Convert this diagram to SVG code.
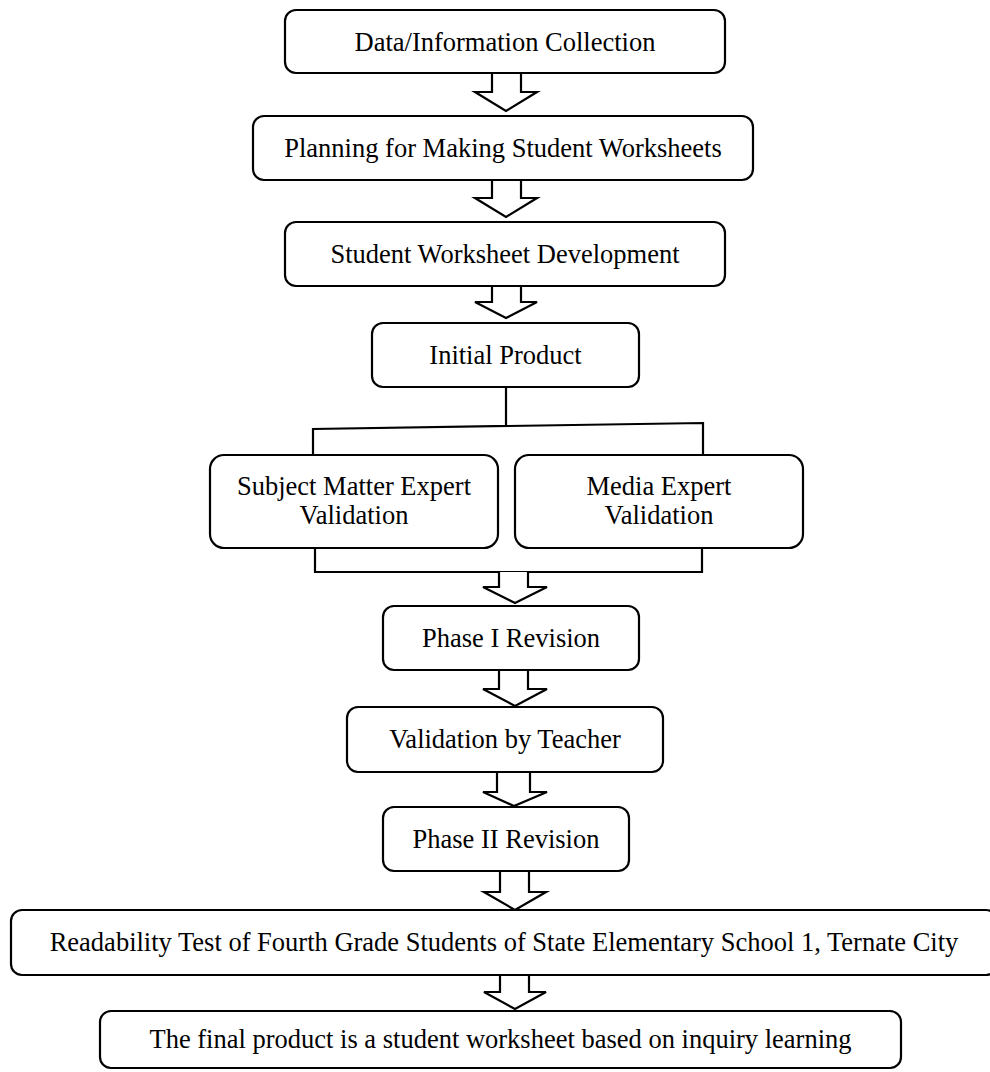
<svg xmlns="http://www.w3.org/2000/svg" width="990" height="1072" viewBox="0 0 990 1072">
<style>
.box{fill:#fff;stroke:#000;stroke-width:2.2}
.t{font-family:"Liberation Serif","Times New Roman",serif;font-size:26.5px;fill:#000;text-anchor:middle}
.arr{fill:#fff;stroke:#000;stroke-width:2.2;stroke-linejoin:miter}
.ln{fill:none;stroke:#000;stroke-width:2.2}
</style>
<rect width="990" height="1072" fill="#fff"/>
<g id="connectors">
<path class="arr" d="M492,73 L492,92 L475,92 L506,111 L537,92 L521,92 L521,73"/>
<path class="arr" d="M492,180 L492,198 L475,198 L506,217 L537,198 L521,198 L521,180"/>
<path class="arr" d="M492,286 L492,302 L475,302 L506,318 L537,302 L521,302 L521,286"/>
<path class="ln" d="M506,387 L506,426"/>
<path class="ln" d="M313,456 L313,429 L703,423 L703,456"/>
<path class="ln" d="M315,548 L315,572 L702,572 L702,548"/>
<path class="arr" d="M499,572 L499,587 L483,587 L515,603 L547,587 L528,587 L528,572"/>
<path class="arr" d="M499,670 L499,689 L483,689 L515,706 L547,689 L528,689 L528,670"/>
<path class="arr" d="M497,772 L497,792 L483,792 L514,806 L547,792 L530,792 L530,772"/>
<path class="arr" d="M500,871 L500,892 L484,892 L515,910 L546,892 L529,892 L529,871"/>
<path class="arr" d="M500,975 L500,992 L484,992 L515,1009 L546,992 L529,992 L529,975"/>
</g>
<g id="n1"><rect class="box" x="285" y="10" width="440" height="63" rx="11"/><text class="t" x="505" y="51">Data/Information Collection</text></g>
<g id="n2"><rect class="box" x="253" y="116" width="500" height="64" rx="11"/><text class="t" x="503" y="157">Planning for Making Student Worksheets</text></g>
<g id="n3"><rect class="box" x="285" y="222" width="440" height="64" rx="11"/><text class="t" x="505" y="263">Student Worksheet Development</text></g>
<g id="n4"><rect class="box" x="372" y="323" width="267" height="64" rx="11"/><text class="t" x="505.5" y="364">Initial Product</text></g>
<g id="n5"><rect class="box" x="210" y="455" width="288" height="93" rx="14"/><text class="t" x="354" y="495">Subject Matter Expert</text><text class="t" x="354" y="524">Validation</text></g>
<g id="n6"><rect class="box" x="515" y="455" width="288" height="93" rx="14"/><text class="t" x="659" y="495">Media Expert</text><text class="t" x="659" y="524">Validation</text></g>
<g id="n7"><rect class="box" x="383" y="606" width="256" height="64" rx="11"/><text class="t" x="511" y="647">Phase I Revision</text></g>
<g id="n8"><rect class="box" x="347" y="707" width="316" height="65" rx="11"/><text class="t" x="505" y="748">Validation by Teacher</text></g>
<g id="n9"><rect class="box" x="383" y="807" width="246" height="64" rx="11"/><text class="t" x="506" y="848">Phase II Revision</text></g>
<g id="n10"><rect class="box" x="11" y="910" width="986" height="65" rx="11"/><text class="t" x="504" y="951">Readability Test of Fourth Grade Students of State Elementary School 1, Ternate City</text></g>
<g id="n11"><rect class="box" x="100" y="1011" width="801" height="57" rx="11"/><text class="t" x="500.5" y="1048">The final product is a student worksheet based on inquiry learning</text></g>
</svg>
